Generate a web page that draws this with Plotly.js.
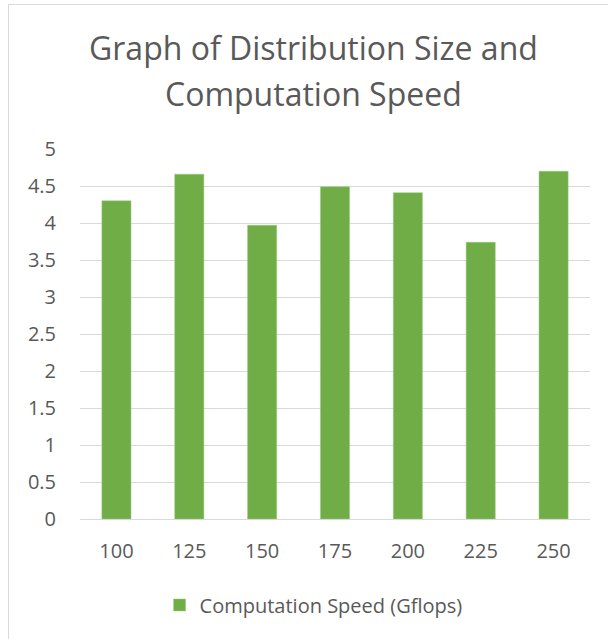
<!DOCTYPE html>
<html>
<head>
<meta charset="utf-8">
<script src="https://cdn.plot.ly/plotly-3.0.1.min.js"></script>
<style>
  html, body { margin: 0; padding: 0; background: #fff; overflow: hidden; }
  #wrap { position: relative; width: 608px; height: 639px; }
  #chart { width: 608px; height: 639px; }
  #frame { position: absolute; left: 8px; top: 4px; width: 640px; height: 680px;
           border-left: 1px solid #d9d9d9; border-top: 1px solid #d9d9d9; pointer-events: none; }
</style>
</head>
<body>
<div id="wrap">
  <div id="chart"></div>
  <div id="frame"></div>
</div>
<script>
// Distribution sizes and measured computation speed
const distributionSizes = ['100', '125', '150', '175', '200', '225', '250'];
const speedGflops = [4.30, 4.66, 3.97, 4.49, 4.41, 3.74, 4.70];
const seriesName = 'Computation Speed (Gflops)';
const titleLines = ['Graph of Distribution Size and', 'Computation Speed'];
const yTickValues = [0, 0.5, 1, 1.5, 2, 2.5, 3, 3.5, 4, 4.5, 5];
const yTickLabels = ['0', '0.5', '1', '1.5', '2', '2.5', '3', '3.5', '4', '4.5', '5'];

const textColor = '#595959';
const fontFamily = '"Open Sans", "Noto Sans", sans-serif';
const W = 608, H = 639;

const trace = {
  type: 'bar',
  x: distributionSizes,
  y: speedGflops,
  name: seriesName,
  marker: { color: '#70ad47', line: { color: '#9fcb85', width: 0.5 } },
  hoverinfo: 'x+y'
};

// two-line chart title, each line placed on the page
const titleAnnotations = titleLines.map((line, i) => ({
  text: line,
  xref: 'paper', yref: 'paper',
  x: (313 - 80) / 510, xanchor: 'center',
  y: (519 - [48, 93][i]) / 370, yanchor: 'middle',
  showarrow: false,
  font: { family: fontFamily, size: 32, color: textColor }
}));

const layout = {
  width: W,
  height: H,
  margin: { l: 80, r: 18, t: 149, b: 120 },
  paper_bgcolor: '#ffffff',
  plot_bgcolor: '#ffffff',
  font: { family: fontFamily, color: textColor, size: 20 },
  annotations: titleAnnotations,
  bargap: 0.6,
  showlegend: true,
  legend: {
    orientation: 'h',
    x: 0.458, xanchor: 'center',
    y: (519 - 605) / 370, yanchor: 'middle',
    font: { family: fontFamily, size: 20, color: textColor },
    itemwidth: 30
  },
  xaxis: {
    type: 'category',
    showgrid: false,
    showline: false,
    zeroline: false,
    ticks: '',
    ticklabelstandoff: 18,
    tickfont: { family: fontFamily, size: 20, color: textColor }
  },
  yaxis: {
    range: [0, 5],
    tickvals: yTickValues,
    ticktext: yTickLabels,
    showgrid: true,
    gridcolor: '#d9d9d9',
    gridwidth: 1,
    zeroline: true,
    zerolinecolor: '#d9d9d9',
    zerolinewidth: 1,
    showline: false,
    ticks: '',
    ticklabelstandoff: 23,
    tickfont: { family: fontFamily, size: 20, color: textColor },
    fixedrange: true
  }
};

Plotly.newPlot('chart', [trace], layout, { displayModeBar: false, staticPlot: true });
</script>
</body>
</html>
